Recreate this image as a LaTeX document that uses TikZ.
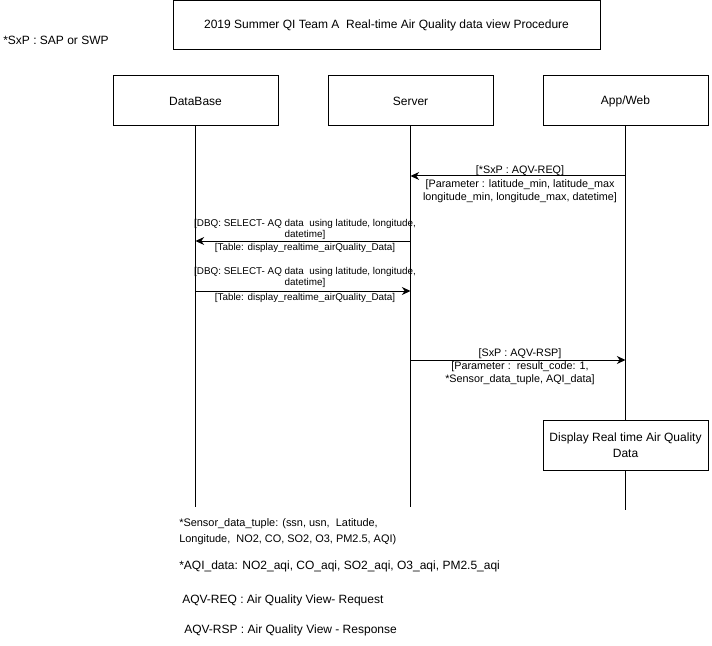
\documentclass[tikz,border=0pt]{standalone}
\usepackage{fontspec}
\setmainfont{Liberation Sans}
\usetikzlibrary{arrows.meta}
\begin{document}
\begin{tikzpicture}[x=0.75pt,y=-0.75pt,
  box/.style={draw,line width=0.75pt,minimum width=123.75pt,minimum height=37.5pt,inner sep=0pt,font=\fontsize{9}{11}\selectfont},
  life/.style={line width=0.75pt},
  msg/.style={line width=0.75pt,-{Stealth[length=6.5pt,width=6pt]}},
  lbl/.style={align=center,inner sep=0pt,font=\fontsize{8.1}{9.8}\selectfont},
  small/.style={align=center,inner sep=0pt,font=\fontsize{7.4}{8.6}\selectfont},
  note/.style={anchor=west,align=left,inner sep=0pt,font=\fontsize{9}{12}\selectfont}]
\useasboundingbox (0,0) rectangle (712,645);
\fill[white] (0,0) rectangle (712,645);

% heading and legend
\node[draw,line width=0.75pt,minimum width=320.25pt,minimum height=36.75pt,inner sep=0pt,font=\fontsize{9}{11}\selectfont] (title) at (386.5,25.5) {2019 Summer QI Team A\ \ Real-time Air Quality data view Procedure};
\node[note] (sxp) at (3,40) {*SxP : SAP or SWP};

% participants
\node[box] (db)  at (195.5,101) {DataBase};
\node[box] (srv) at (410.5,101) {Server};
\node[box] (app) at (625.5,101) {App/Web};
\node[box,align=center,font=\fontsize{9}{12}\selectfont] (disp) at (625.5,445) {Display Real time Air Quality\\Data};

% lifelines
\coordinate (dbEnd)  at (195.5,507);
\coordinate (srvEnd) at (410.5,507);
\coordinate (appEnd) at (625.5,510);
\draw[life] (db.south) -- (dbEnd);
\draw[life] (srv.south) -- (srvEnd);
\draw[life] (app.south) -- (disp.north);
\draw[life] (disp.south) -- (appEnd);

% messages
\coordinate (reqA) at (625.5,176);
\coordinate (reqS) at (410.5,176);
\draw[msg] (reqA) -- (reqS);
\node[lbl] (reqT) at (520,171) {[*SxP : AQV-REQ]};
\node[lbl] (reqP) at (520,191.5) {[Parameter : latitude\_min, latitude\_max\\longitude\_min, longitude\_max, datetime]};

\coordinate (q1S) at (410.5,241);
\coordinate (q1D) at (195.5,241);
\draw[msg] (q1S) -- (q1D);
\node[small] (q1T) at (305,229.5) {[DBQ: SELECT- AQ data\ \ using latitude, longitude,\\datetime]};
\node[small] (q1B) at (305,248) {[Table: display\_realtime\_airQuality\_Data]};

\coordinate (q2D) at (195.5,291);
\coordinate (q2S) at (410.5,291);
\draw[msg] (q2D) -- (q2S);
\node[small] (q2T) at (305,277.5) {[DBQ: SELECT- AQ data\ \ using latitude, longitude,\\datetime]};
\node[small] (q2B) at (305,298) {[Table: display\_realtime\_airQuality\_Data]};

\coordinate (rspS) at (410.5,360);
\coordinate (rspA) at (625.5,360);
\draw[msg] (rspS) -- (rspA);
\node[lbl] (rspT) at (520,354) {[SxP : AQV-RSP]};
\node[lbl] (rspP) at (520,373.5) {[Parameter :\ \ result\_code: 1,\\*Sensor\_data\_tuple, AQI\_data]};

% notes
\node[note,font=\fontsize{8.2}{12}\selectfont] (n1) at (179,532) {*Sensor\_data\_tuple: (ssn, usn,\ \ Latitude,\\Longitude,\ \ NO2, CO, SO2, O3, PM2.5, AQI)};
\node[note] (n2) at (179,566) {*AQI\_data: NO2\_aqi, CO\_aqi, SO2\_aqi, O3\_aqi, PM2.5\_aqi};
\node[note] (n3) at (182,600) {AQV-REQ : Air Quality View- Request};
\node[note] (n4) at (184,630) {AQV-RSP : Air Quality View - Response};
\end{tikzpicture}
\end{document}
